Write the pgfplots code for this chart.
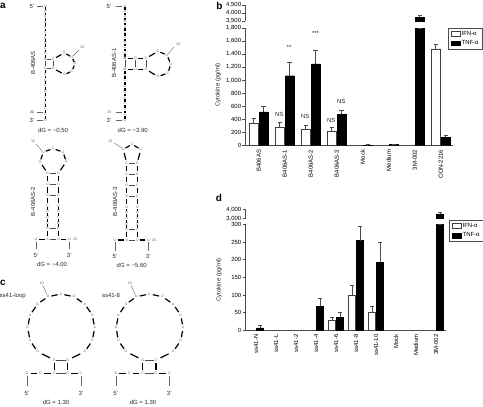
\documentclass[border=0pt]{standalone}
\usepackage{pgfplots}
\pgfplotsset{compat=1.18}
\usepackage{fontspec}
\setmainfont{Liberation Sans}
\newcommand{\ts}{\fontsize{6}{7}\selectfont}
\newcommand{\tn}{\fontsize{3.6}{4}\selectfont}
\pgfplotsset{
  panel/.style={
    scale only axis, clip=true, ymin=0,
    axis x line*=bottom, axis y line*=left,
    axis line style={black!70, line width=0.7pt, -},
    tick style={black!70, line width=0.6pt},
    ytick align=outside, xtick align=outside,
    major tick length=3bp,
    x tick style={draw=none},
    tick label style={font=\ts, inner sep=1pt},
    /pgf/number format/assume math mode=true,
    /pgf/number format/1000 sep={,},
    scaled y ticks=false,
    xticklabel style={rotate=90, anchor=east},
    ybar, bar width=8.4bp,
  },
  upper/.style={
    scale only axis, clip=true,
    axis x line=none, axis y line*=left,
    axis line style={black!70, line width=0.7pt, -},
    tick style={black!70, line width=0.6pt},
    ytick align=outside, major tick length=3bp,
    tick label style={font=\ts, inner sep=1pt},
    /pgf/number format/assume math mode=true,
    /pgf/number format/1000 sep={,},
    scaled y ticks=false,
    ybar,
  },
  wbar/.style={fill=white, draw=black!75, line width=0.8pt},
  kbar/.style={fill=black, draw=black, line width=0.4pt},
  errs/.style={error bars/.cd, y dir=plus, y explicit,
     error bar style={black!70, line width=0.7pt},
     error mark options={rotate=90, black!70, mark size=2.2bp, line width=0.6pt}},
  lgd/.style={legend cell align=left,
     legend style={font=\ts, draw=black!70, line width=0.6pt, inner xsep=2.4pt, inner ysep=2pt,
       row sep=2.2pt, at={(#1)}, anchor=north west, /tikz/every even column/.style={column sep=0pt},
       nodes={inner xsep=1.3pt, inner ysep=0.8pt}}},
  patchw/.style={legend image code/.code={\draw[fill=white, draw=black!75, line width=0.8pt] (0bp,-2.4bp) rectangle (8.6bp,2.4bp);}},
  patchk/.style={legend image code/.code={\draw[fill=black, draw=black, line width=0.4pt] (0bp,-2.4bp) rectangle (8.6bp,2.4bp);}},
}
\tikzset{
  bondl/.style={line width=1.2pt, black},
  thinb/.style={line width=0.45pt, black!70, shorten >=2.1bp, shorten <=2.1bp},
  lead/.style={line width=0.4pt, black!60},
  nt/.style={font=\tn, text=black!60, inner sep=0pt},
  tx/.style={font=\ts, text=black!85, inner sep=0pt},
  lt/.style={font=\bfseries\fontsize{10}{11}\selectfont, inner sep=0pt},
}
% chain of nucleotides joined by thick bonds (picture pixels, y downward)
\newcommand{\chain}[1]{%
  \foreach \x/\y/\l [count=\i, remember=\x as \px (initially 0), remember=\y as \py (initially 0)] in {#1}{%
    \node[nt] at (\x,\y) {\l};
    \ifnum\i>1
      \pgfmathsetmacro\sh{0.26*veclen(\x-\px,\y-\py)}
      \draw[bondl, shorten >=\sh bp, shorten <=\sh bp] (\px,\py) -- (\x,\y);
    \fi
  }}
\newcommand{\pairb}[4]{\draw[thinb] (#1,#2) -- (#3,#4);}
\begin{document}
\begin{tikzpicture}[x=1bp,y=-1bp]
\useasboundingbox (0,0) rectangle (483,406);
% ---------- panel b lower
\begin{axis}[panel, at={(245.3bp,-145.7bp)}, anchor=south west, width=207.7bp, height=117.7bp,
  xmin=-0.515, xmax=7.47, ymax=1800, ytick={0,200,...,1800}, xtick={0,...,7},
  xticklabels={B406AS,B406AS-1,B406AS-2,B406AS-3,Mock,Medium,3M-002,ODN-2216},
  lgd={0.977,1.0}]
\addplot[wbar, bar shift=-4.95bp, forget plot, errs] coordinates {(0,345) +- (0,79) (1,275) +- (0,82) (2,248) +- (0,68) (3,221) +- (0,59) (7,1467) +- (0,81)};
\addplot[kbar, bar shift=4.95bp, forget plot, errs] coordinates {(0,519) +- (0,81) (1,1070) +- (0,199) (2,1250) +- (0,204) (3,478) +- (0,64) (4,9) +- (0,6) (5,18) +- (0,7) (6,1800) +- (0,0) (7,131) +- (0,22)};
\addlegendimage{patchw}\addlegendentry{IFN-α}
\addlegendimage{patchk}\addlegendentry{TNF-α}
\end{axis}
% ---------- panel b upper
\begin{axis}[upper, at={(245.3bp,-21bp)}, anchor=south west, width=207.7bp, height=16bp,
  xmin=-0.515, xmax=7.47, ymin=3500, ymax=4500, ytick={3500,4000,4500}, bar width=8.4bp]
\addplot[kbar, bar shift=4.95bp, errs] coordinates {(6,3730) +- (0,100)};
\end{axis}
% ---------- panel d lower
\begin{axis}[panel, at={(245.5bp,-330.3bp)}, anchor=south west, width=200.5bp, height=106bp,
  xmin=-0.525, xmax=9.5, ymax=300, ytick={0,50,...,300}, bar width=6.7bp,
  xticklabels={ss41-N,ss41-L,ss41-2,ss41-4,ss41-6,ss41-8,ss41-10,Mock,Medium,3M-002},
  xtick={0,...,9}, lgd={1.016,1.038}]
\addplot[wbar, bar shift=-4bp, forget plot, errs] coordinates {(4,28) +- (0,9) (5,99) +- (0,28) (6,52) +- (0,15)};
\addplot[kbar, bar shift=4bp, forget plot, errs] coordinates {(0,7) +- (0,6) (3,68) +- (0,22) (4,37) +- (0,14) (5,254) +- (0,40) (6,192) +- (0,56) (9,300) +- (0,0)};
\addlegendimage{patchw}\addlegendentry{IFN-α}
\addlegendimage{patchk}\addlegendentry{TNF-α}
\end{axis}
% ---------- panel d upper
\begin{axis}[upper, at={(245.5bp,-218.3bp)}, anchor=south west, width=200.5bp, height=9bp,
  xmin=-0.525, xmax=9.5, ymin=3000, ymax=4000, ytick={3000,4000}, bar width=6.7bp]
\addplot[kbar, bar shift=4bp, errs] coordinates {(9,3444) +- (0,176)};
\end{axis}
% axis titles, significance
\node[tx, rotate=90] at (218,85) {Cytokine (pg/ml)};
\node[tx, rotate=90] at (219,280) {Cytokine (pg/ml)};
\node[tx] at (279.3,114.3) {NS};
\node[tx] at (305.3,116.3) {NS};
\node[tx] at (331.3,120.3) {NS};
\node[tx] at (341.3,101) {NS};
\node[tx] at (289,47.5) {**};
\node[tx] at (315.5,33.5) {***};
% panel letters
\node[lt] at (3,6) {a};
\node[lt] at (219.5,6) {b};
\node[lt] at (3,283) {c};
\node[lt] at (219,198) {d};
% ---------- B-406AS
\node[tx, rotate=90] at (33,63) {B-406AS};
\node[tx] at (32,6) {5'}; \draw[lead] (37,6)--(43,6);
\node[tx, font=\tn] at (32,112.3) {20}; \draw[lead] (37,112.3)--(43,112.3);
\node[tx] at (32,120) {3'}; \draw[lead] (37,120)--(43,120);
\chain{45.3/6/U,45.3/11.3/U,45.3/16.6/A,45.3/21.9/A,45.3/27.2/A,45.3/32.5/C,45.3/37.8/C,45.3/43.1/U,45.3/48.4/C,45.3/53.7/U,45.3/59.3/G}
\chain{45.3/68.3/C,45.3/74.1/C,45.3/79.8/C,45.3/85.6/C,45.3/91.3/U,45.3/97.1/C,45.3/102.8/C,45.3/108.5/C,45.3/114.3/C,45.3/120/U}
\pairb{45.3}{59.3}{45.3}{68.3}\pairb{45.3}{59.3}{53.3}{59.3}\pairb{45.3}{68.3}{53.3}{68.3}
\chain{53.3/59.3/C,64.3/52.7/G,72/57.3/U,75/63.7/G,72/71/C,64.7/74.7/G,53.3/68.3/G}
\pairb{53.3}{59.3}{53.3}{68.3}
\draw[lead] (73,56)--(79,50); \node[nt] at (82,47) {10};
\node[tx] at (53,130) {dG = −0.50};
% ---------- B-406AS-1
\node[tx, rotate=90] at (114,63) {B-406AS-1};
\node[tx] at (109,6) {5'}; \draw[lead] (116,6)--(122,6);
\node[nt] at (109,112) {20}; \draw[lead] (116,112)--(122,112);
\node[tx] at (109,120) {3'}; \draw[lead] (116,120)--(122,120);
\chain{125/6/U,125/11.2/U,125/16.4/A,125/21.6/A,125/26.8/A,125/32/C,125/37.2/C,125/42.4/U,125/47.6/C,125/52.8/U,125/58.3/G}
\chain{125/69.3/C,125/75/C,125/80.7/C,125/86.4/C,125/92.1/U,125/97.8/C,125/103.5/C,125/109.2/C,125/114.6/C,125/120/U}
\chain{125/58.3/G,135.7/58.3/G,146/58.3/C,158/51.3/G,167/55/U,170.7/64/G,168/73/C,158/76.7/G,146/69.3/G,135.7/69.3/G,125/69.3/C}
\pairb{125}{58.3}{125}{69.3}\pairb{135.7}{58.3}{135.7}{69.3}\pairb{146}{58.3}{146}{69.3}
\draw[lead] (168,54)--(174,47); \node[nt] at (178,44) {10};
\node[tx] at (132.7,130) {dG = −3.90};
% ---------- B-406AS-2
\node[tx, rotate=90] at (33,201.6) {B-406AS-2};
\chain{36/239.3/U,47.7/239.3/A,47.7/228.3/G,47.7/223/C,47.7/217.3/U,47.7/211.7/U,47.7/206/C,47.7/195.7/G,47.7/184.3/G,47.7/173.3/G,40/162/G,43.3/152/U,53/148.7/C,63/152/U,66.3/161.7/G,58.3/173.3/G,58.3/184.3/C,58.3/195.7/C,58.3/206/U,58.3/211.7/C,58.3/217.3/C,58.3/223/U,58.3/228.3/C,58.3/239.3/U,69.3/239.3/U}
\foreach \yy in {173.3,184.3,195.7,228.3,239.3}{\pairb{47.7}{\yy}{58.3}{\yy}}
\node[nt] at (75,239.3) {20};
\draw[lead] (36,241.7)--(36,249.3); \draw[lead] (69.3,241.7)--(69.3,249.3);
\node[tx] at (36,255.5) {5'}; \node[tx] at (69.3,255.5) {3'};
\draw[lead] (42,151)--(36,144); \node[nt] at (33,141) {10};
\node[tx] at (52,264.3) {dG = −4.00};
% ---------- B-406AS-3
\node[tx, rotate=90] at (115,201.6) {B-406AS-3};
\chain{115/240/U,126.7/240/A,126.7/229.3/G,126.7/224/U,126.7/218.3/U,126.7/212.7/U,126.7/207.3/U,126.7/196/G,126.7/185/G,126.7/174/C,126.7/163.3/C,123.3/149.3/U,132/144.3/C,140.7/149.3/U,137.3/163.3/G,137.3/174/G,137.3/185/C,137.3/196/C,137.3/207.3/U,137.3/212.7/U,137.3/218.3/U,137.3/224/U,137.3/229.3/C,137.3/240/U,148.3/240/U}
\foreach \yy in {163.3,174,185,196,229.3,240}{\pairb{126.7}{\yy}{137.3}{\yy}}
\node[nt] at (154,240) {20};
\draw[lead] (115,242.3)--(115,251); \draw[lead] (148.3,242.3)--(148.3,251);
\node[tx] at (115,256.5) {5'}; \node[tx] at (148.3,256.5) {3'};
\draw[lead] (122,148)--(114,143); \node[nt] at (110,141.7) {10};
\node[tx] at (131.7,265) {dG = −5.60};
% ---------- ss41-loop
\node[tx] at (12.7,295.7) {ss41-loop};
\chain{27/373.3/G,40.7/373.3/C,54.3/373.3/C,54.3/360/G,37.7/351.7/G,30/340.7/A,27.7/327.7/G,30/315/A,37.7/304/G,48/296.7/A,61/294/A,74/296.7/G,84.7/304/A,92.3/315/G,94.7/327.7/A,92.3/340.7/G,84.7/351.7/A,67.7/360/G,67.7/373.3/G,81/373.3/C}
\pairb{54.3}{360}{67.7}{360}\pairb{54.3}{373.3}{67.7}{373.3}
\draw[lead] (47,294.5)--(42.5,285); \node[nt] at (41.5,283) {10};
\draw[lead] (27,376)--(27,386); \draw[lead] (81,376)--(81,386);
\node[tx] at (27,393.3) {5'}; \node[tx] at (81,393.3) {3'};
\node[tx] at (56,402) {dG = 1.30};
% ---------- ss41-8
\node[tx] at (111,295.7) {ss41-8};
\chain{115.7/373.3/G,129.3/373.3/C,142.7/373.3/C,142.7/360/G,126.1/351.7/G,118.4/340.7/U,116.1/327.7/E,118.4/315/U,126.1/304/U,136.4/296.7/U,149.4/294/A,162.4/296.7/U,173.1/304/U,180.7/315/U,183.1/327.7/A,180.7/340.7/U,173.1/351.7/A,156/360/C,156/373.3/G,169.3/373.3/C}
\pairb{142.7}{360}{156}{360}\pairb{142.7}{373.3}{156}{373.3}
\draw[lead] (135.4,294.5)--(130.9,285); \node[nt] at (129.9,283) {10};
\draw[lead] (115.7,376)--(115.7,386); \draw[lead] (169.3,376)--(169.3,386);
\node[tx] at (115.7,393.3) {5'}; \node[tx] at (169.3,393.3) {3'};
\node[tx] at (143,402) {dG = 1.30};
\end{tikzpicture}
\end{document}
